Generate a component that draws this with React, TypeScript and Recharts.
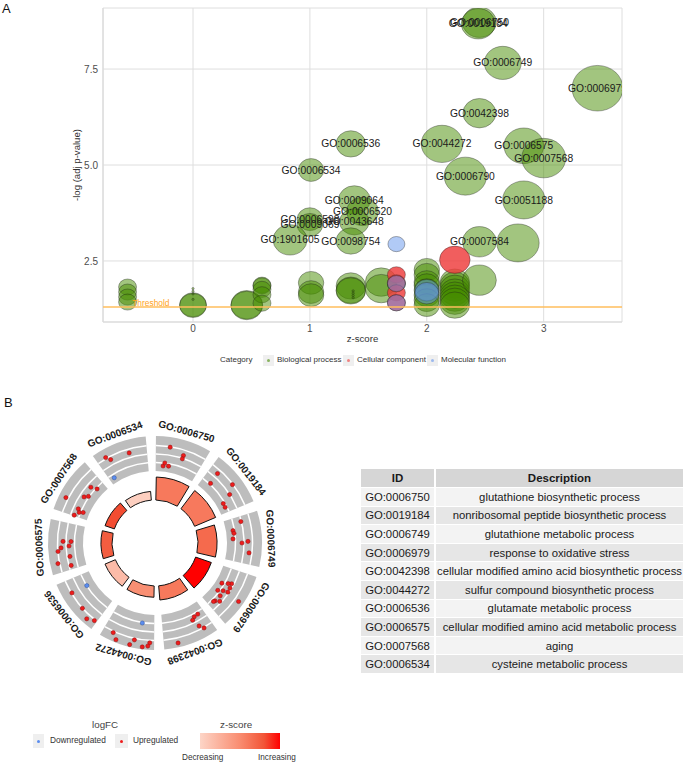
import React from 'react';
import {
  ScatterChart, Scatter, XAxis, YAxis, ZAxis, CartesianGrid,
  PieChart, Pie, Cell, RadialBarChart, RadialBar, PolarAngleAxis, PolarRadiusAxis,
  RadarChart, Radar,
} from 'recharts';

const FONT = '"Liberation Sans", Arial, Helvetica, sans-serif';

// ---------------- Panel A: GO bubble plot ----------------
const bpIds = [
  'GO:0006750', 'GO:0019184', 'GO:0006749', 'GO:0006979', 'GO:0042398', 'GO:0044272', 'GO:0006536',
  'GO:0006575', 'GO:0007568', 'GO:0006534', 'GO:0006790', 'GO:0009064', 'GO:0051188', 'GO:0006520',
  'GO:0006598', 'GO:0043648', 'GO:0009069', 'GO:1901605', 'GO:0098754', 'GO:0007584',
  '', '', '', '', '', '', '', '', '', '', '', '', '', '', '', '', '', '', '', '', '', '', '', '', '', '',
  '', '', '', '', '', '', '', '', '', '', '', '', '', '', '', '', '', '', '', '', '', '', '',
];
const bpZ = [
  2.45, 2.44, 2.65, 3.46, 2.45, 2.13, 1.35, 2.83, 3.0, 1.01, 2.33, 1.38, 2.83, 1.45,
  1.0, 1.38, 1.0, 0.83, 1.35, 2.45,
  2.78, -0.56, -0.56, -0.56, -0.56, 0.0, 0.0, 0.0, 0.0, 0.0, 0.0, 0.46, 0.46, 0.59, 0.59, 0.59, 0.59, 0.59,
  1.01, 1.01, 1.01, 1.35, 1.35, 1.35, 1.37, 1.37, 1.37, 1.37, 1.61, 1.61, 1.74,
  2.0, 2.0, 2.0, 2.0, 2.0, 2.0, 2.0, 2.0, 2.24, 2.24, 2.24, 2.24, 2.24, 2.24, 2.24, 2.24, 2.45,
];
const bpLogP = [
  8.72, 8.68, 7.66, 7.0, 6.35, 5.55, 5.55, 5.5, 5.18, 4.87, 4.71, 4.09, 4.09, 3.79,
  3.59, 3.52, 3.44, 3.05, 3.02, 3.0,
  2.97, 1.82, 1.69, 1.56, 1.43, 1.36, 1.34, 1.78, 1.71, 1.64, 1.5, 1.36, 1.34, 1.87, 1.85, 1.76, 1.62, 1.4,
  1.93, 1.69, 1.61, 1.85, 1.74, 1.72, 1.72, 1.66, 1.6, 1.54, 1.95, 1.78, 1.9,
  2.27, 2.14, 1.95, 1.87, 1.74, 1.61, 1.48, 1.35, 1.95, 1.87, 1.79, 1.69, 1.61, 1.53, 1.45, 1.35, 2.0,
];
const bpCount = [
  16, 16, 19, 36, 15, 24, 12, 22, 27, 9, 25, 14, 25, 14,
  9, 12, 9, 16, 12, 16,
  25, 4.5, 4.5, 4.5, 4.5, 10, 10, 0.08, 0.08, 0.08, 0.08, 14, 14, 4.5, 4.5, 4.5, 4.5, 4.5,
  9, 9, 9, 12, 12, 12, 0.08, 0.08, 0.08, 0.08, 14, 14, 4.5,
  9, 9, 9, 9, 9, 9, 9, 9, 12, 12, 12, 12, 12, 12, 12, 12, 16,
];
const ccZ = [2.24, 1.74, 1.74, 1.74, 1.74];
const ccLogP = [2.53, 2.14, 1.93, 1.67, 1.41];
const ccCount = [13, 4.5, 4.5, 4.5, 4.5];
const mfZ = [1.74, 1.74, 1.74, 2.0, 2.0];
const mfLogP = [2.94, 1.91, 1.41, 1.74, 1.66];
const mfCount = [4, 4.5, 4.5, 8, 8];

const xDomain = [-0.77, 3.67];
const yDomain = [0.91, 9.09];
const xTicks = [0, 1, 2, 3];
const yTicks = [2.5, 5.0, 7.5];
const thresholdLogP = 1.301;
const thresholdLabelZ = -0.52;
const categoryNames = ['Biological process', 'Cellular component', 'Molecular function'];
const categoryColors = ['#458B00', '#EE3B3B', '#6495ED'];
const categoryOpacity = [0.5, 0.82, 0.5];

// ---------------- Panel B: GO circle ----------------
const termIds = ['GO:0006750', 'GO:0019184', 'GO:0006749', 'GO:0006979', 'GO:0042398',
  'GO:0044272', 'GO:0006536', 'GO:0006575', 'GO:0007568', 'GO:0006534'];
const termDesc = [
  'glutathione biosynthetic process',
  'nonribosomal peptide biosynthetic process',
  'glutathione metabolic process',
  'response to oxidative stress',
  'cellular modified amino acid biosynthetic process',
  'sulfur compound biosynthetic process',
  'glutamate metabolic process',
  'cellular modified amino acid metabolic process',
  'aging',
  'cysteine metabolic process',
];
const termLogP = [8.72, 8.68, 7.66, 7.0, 6.35, 5.55, 5.55, 5.5, 5.18, 4.87];
const termZ = [2.45, 2.44, 2.65, 3.46, 2.45, 2.13, 1.35, 2.83, 3.0, 1.01];

// gene dots: angular offset (deg) inside each term sector, |logFC|, and which are downregulated
const dotAngle = [
  [8.9, 17.6, 18.4, 7.1, 9.6, 5.9],
  [6.4, 6.5, 16.5, 21.4, 23.5, 26.8],
  [4.3, 8.5, 10.8, 15, 18, 17.4, 24],
  [12.8, 11.3, 9.5, 18.7, 17.2, 15.9, 13, 21.2, 26.5, 26, 23.7, 16.6],
  [4.8, 8.2, 9.7, 8.1, 6, 23],
  [9.2, 24.5, 21.9, 11.6, 13.6, 6.5, 4.4, 2.9],
  [21.7, 22.9, 11.5, 5.8, 1.6],
  [19.4, 18.6, 16, 15, 13.3, 8.6, 5.8, 3.3],
  [9.3, 5.8, 1.0, 3.5, 4.6, 15, 16.5, 23.2, 25],
  [5.5, 7.5, 19.9, 3.8],
];
const dotFC = [
  [2.94, 2.35, 1.94, 1.01, 0.71, 0.64],
  [2.52, 1.11, 2.94, 2.0, 0.81, 0.79],
  [1.94, 0.82, 0.89, 0.72, 1.76, 2.47, 2.65],
  [0.71, 1.38, 1.74, 0.78, 1.32, 1.87, 1.82, 1.4, 1.26, 1.34, 1.78, 3.53],
  [1.29, 1.36, 1.64, 2.58, 3.07, 3.6],
  [1.06, 3.16, 3.8, 3.18, 3.85, 3.85, 3.68, 3.29],
  [0.99, 2.93, 3.02, 3.53, 3.11],
  [1.41, 2.35, 1.65, 2.6, 2.98, 1.66, 3.2, 1.74],
  [3.29, 1.41, 1.58, 1.14, 0.71, 1.48, 1.09, 1.53, 0.85],
  [3.13, 2.64, 2.55, 0.58],
];
const dotDown = [[], [], [], [], [], [0], [0], [], [], [3]];
const ringLines = [80.5, 89, 97.5];

// ---------- layout constants ----------
const A_W = 690;
const A_H = 350;
const A_MARGIN = { top: 8, right: 68, bottom: 0, left: 0 };
const Y_AXIS_W = 103;
const X_AXIS_H = 28;
const CLIP_ID = 'plotClipA';

// ---------- derived tables for the library ----------
const bpData = bpZ.map((z, i) => ({ id: bpIds[i], z, logp: bpLogP[i], count: bpCount[i] }));
const ccData = ccZ.map((z, i) => ({ z, logp: ccLogP[i], count: ccCount[i] }));
const mfData = mfZ.map((z, i) => ({ z, logp: mfLogP[i], count: mfCount[i] }));
const labelData = bpData.filter((d) => d.id);
const thresholdLine = [{ z: xDomain[0], logp: thresholdLogP }, { z: xDomain[1], logp: thresholdLogP }];
const thresholdText = [{ z: thresholdLabelZ, logp: thresholdLogP, text: 'Threshold' }];

const pieData = termIds.map((id) => ({ id, share: 1 }));
const barData = termIds.map((id, i) => ({ id, logp: termLogP[i], z: termZ[i] }));

const slotRows: any[] = Array.from({ length: 360 }, (_, i) => ({ slot: i }));
const seriesKeys: string[] = [];
dotAngle.forEach((angles, k) => {
  angles.forEach((a, j) => {
    const slot = Math.round(36 * k + a) % 360;
    const dir = dotDown[k].includes(j) ? 'dn' : 'up';
    let s = 0;
    while (slotRows[slot][`${dir}${s}`] != null) s += 1;
    const key = `${dir}${s}`;
    slotRows[slot][key] = dotFC[k][j];
    if (!seriesKeys.includes(key)) seriesKeys.push(key);
  });
});
slotRows.forEach((row) => seriesKeys.forEach((k) => { if (row[k] === undefined) row[k] = null; }));

const zStops: [number, number[]][] = [
  [0, [253, 213, 199]], [0.5, [249, 140, 112]], [0.8, [242, 85, 55]], [1, [255, 0, 0]],
];
function zColor(z: number) {
  const t = Math.max(0, Math.min(1, (z - 0.9) / 2.56));
  for (let i = 1; i < zStops.length; i += 1) {
    const [t1, c1] = zStops[i];
    const [t0, c0] = zStops[i - 1];
    if (t <= t1) {
      const f = (t - t0) / (t1 - t0);
      const c = c0.map((v, j) => Math.round(v + (c1[j] - v) * f));
      return `rgb(${c[0]},${c[1]},${c[2]})`;
    }
  }
  return 'rgb(255,0,0)';
}

const makeBubble = (color: string, opacity: number) => (p: any) => {
  if (!Number.isFinite(p.cx) || !Number.isFinite(p.cy)) return <g />;
  const size = typeof p.size === 'number' ? p.size : Math.PI * (p.width / 2) ** 2;
  const r = Math.sqrt(Math.max(size, 0) / Math.PI);
  return (
    <g clipPath={`url(#${CLIP_ID})`}>
      <ellipse cx={p.cx} cy={p.cy} rx={r * 1.06} ry={r * 0.95} fill={color} fillOpacity={opacity}
        stroke="#1a1a1a" strokeOpacity={0.5} strokeWidth={0.7} />
    </g>
  );
};

const LabelShape = (p: any) => {
  if (!Number.isFinite(p.cx) || !Number.isFinite(p.cy)) return <g />;
  const id = p.payload?.id ?? p.id;
  return (
    <g clipPath={`url(#${CLIP_ID})`}>
      <text x={p.cx} y={p.cy} dy="0.35em" textAnchor="middle" fontSize={10.3} fontFamily={FONT} fill="#1a1a1a">
        {id}
      </text>
    </g>
  );
};

// the threshold label point also carries the plot-area clip definition
const ThresholdTextShape = (p: any) => {
  if (!Number.isFinite(p.cx) || !Number.isFinite(p.cy)) return <g />;
  return (
    <g>
      <defs>
        <clipPath id={CLIP_ID}>
          <rect x={A_MARGIN.left + Y_AXIS_W} y={A_MARGIN.top}
            width={A_W - A_MARGIN.left - A_MARGIN.right - Y_AXIS_W}
            height={A_H - A_MARGIN.top - A_MARGIN.bottom - X_AXIS_H} />
        </clipPath>
      </defs>
      <text x={p.cx} y={p.cy - 1} fontSize={8.4} fill="#FFA31A" fontFamily={FONT}>{p.payload?.text ?? p.text}</text>
    </g>
  );
};
const NoPoint = () => <g />;

const RAD = Math.PI / 180;
const renderTermLabel = (p: any) => {
  const r = 116;
  const x = p.cx + r * Math.cos(-p.midAngle * RAD);
  const y = p.cy + r * Math.sin(-p.midAngle * RAD);
  const rot = 90 - p.midAngle;
  return (
    <text key={`lab-${p.index}`} x={x} y={y} transform={`rotate(${rot} ${x} ${y})`} textAnchor="middle"
      dominantBaseline="central" fontSize={10} fontWeight="bold" fill="#1a1a1a" fontFamily={FONT}>
      {p.name ?? p.payload?.id}
    </text>
  );
};

const makeDot = (fill: string, stroke: string) => (p: any) => {
  const v = p.payload && 'value' in p.payload ? p.payload.value : p.value;
  if (v == null || !Number.isFinite(p.cx) || !Number.isFinite(p.cy)) return <g key={`d-${p.index}`} />;
  return <circle key={`d-${p.index}`} cx={p.cx} cy={p.cy} r={2.1} fill={fill} stroke={stroke} strokeWidth={0.5} />;
};

const zeroMargin = { top: 0, right: 0, bottom: 0, left: 0 };
const CX = 155;
const CY = 138;

const txt = (extra: any) => ({ position: 'absolute' as const, fontFamily: FONT, whiteSpace: 'nowrap' as const, lineHeight: 1, ...extra });

export default function App() {
  const legendKeyLefts = [263, 343, 427];
  return (
    <div style={{ position: 'absolute', left: 0, top: 0, width: 690, height: 765, background: '#fff', fontFamily: FONT, overflow: 'hidden' }}>
      <div style={txt({ left: 2, top: 2, fontSize: 13, color: '#111' })}>A</div>
      <div style={{ position: 'absolute', left: 0, top: 0 }}>
        <ScatterChart width={A_W} height={A_H} margin={A_MARGIN} accessibilityLayer={false}>
          <CartesianGrid stroke="#DEDEDE" strokeWidth={1} />
          <XAxis type="number" dataKey="z" domain={xDomain} ticks={xTicks} allowDataOverflow height={X_AXIS_H}
            tickLine={false} tickSize={3} tickMargin={0} axisLine={{ stroke: '#DADADA', strokeWidth: 1.2 }}
            tick={{ fontSize: 10, fill: '#4d4d4d', fontFamily: FONT }}
            label={{ value: 'z-score', position: 'insideBottom', offset: 8, style: { fontSize: 9.6, fill: '#333', fontFamily: FONT } }} />
          <YAxis type="number" dataKey="logp" domain={yDomain} ticks={yTicks} allowDataOverflow width={Y_AXIS_W}
            tickLine={false} tickSize={3} tickMargin={2} axisLine={{ stroke: '#DADADA', strokeWidth: 1.2 }}
            tickFormatter={(v: number) => v.toFixed(1)}
            tick={{ fontSize: 10, fill: '#4d4d4d', fontFamily: FONT }}
            label={{ value: '-log (adj p-value)', angle: -90, position: 'insideLeft', offset: 77, style: { textAnchor: 'middle', fontSize: 9.6, fill: '#333', fontFamily: FONT } }} />
          <ZAxis type="number" dataKey="count" domain={[0, 36]} range={[0, 1810]} />
          <Scatter data={bpData} shape={makeBubble(categoryColors[0], categoryOpacity[0])} isAnimationActive={false} />
          <Scatter data={ccData} shape={makeBubble(categoryColors[1], categoryOpacity[1])} isAnimationActive={false} />
          <Scatter data={mfData} shape={makeBubble(categoryColors[2], categoryOpacity[2])} isAnimationActive={false} />
          <Scatter data={thresholdLine} line={{ stroke: '#FFBE5C', strokeWidth: 1.3 }} shape={NoPoint} isAnimationActive={false} />
          <Scatter data={thresholdText} shape={ThresholdTextShape} isAnimationActive={false} />
          <Scatter data={labelData} shape={LabelShape} isAnimationActive={false} />
        </ScatterChart>
      </div>

      {/* Category legend */}
      <div style={txt({ left: 220, top: 356, fontSize: 8, color: '#333' })}>Category</div>
      {categoryNames.map((name, i) => (
        <React.Fragment key={name}>
          <div style={{ position: 'absolute', left: legendKeyLefts[i], top: 354.5, width: 11, height: 11, background: '#EFEFEF', display: 'flex', alignItems: 'center', justifyContent: 'center' }}>
            <div style={{ width: 3, height: 3, borderRadius: 2, background: categoryColors[i], opacity: 0.6 }} />
          </div>
          <div style={txt({ left: legendKeyLefts[i] + 14, top: 356, fontSize: 8, color: '#333' })}>{name}</div>
        </React.Fragment>
      ))}

      <div style={txt({ left: 4, top: 396, fontSize: 13, color: '#111' })}>B</div>

      {/* GO circle: gray outer band with labels */}
      <div style={{ position: 'absolute', left: 0, top: 405 }}>
        <PieChart width={320} height={280} margin={zeroMargin}>
          <Pie data={pieData} dataKey="share" nameKey="id" cx={CX} cy={CY} innerRadius={72} outerRadius={107}
            startAngle={89.5} endAngle={-270.5} paddingAngle={5.5} stroke="none" isAnimationActive={false}
            label={renderTermLabel} labelLine={false}>
            {pieData.map((d) => <Cell key={d.id} fill="#BDBDBD" stroke="none" />)}
          </Pie>
          {ringLines.map((r) => (
            <Pie key={r} data={pieData} dataKey="share" nameKey="id" cx={CX} cy={CY} innerRadius={r - 0.75} outerRadius={r + 0.75}
              startAngle={89.5} endAngle={-270.5} paddingAngle={5.5} stroke="none" isAnimationActive={false}>
              {pieData.map((d) => <Cell key={d.id} fill="#FFFFFF" stroke="none" />)}
            </Pie>
          ))}
        </PieChart>
      </div>

      {/* GO circle: inner bars */}
      <div style={{ position: 'absolute', left: 0, top: 405 }}>
        <RadialBarChart width={320} height={280} data={barData} layout="centric" cx={CX} cy={CY}
          innerRadius={43} outerRadius={67} startAngle={56} endAngle={-304} barCategoryGap="8%" margin={zeroMargin}>
          <PolarAngleAxis type="category" dataKey="id" tick={false} axisLine={false} tickLine={false} />
          <PolarRadiusAxis type="number" domain={[2.5, 9]} tick={false} axisLine={false} tickLine={false} />
          <RadialBar dataKey="logp" isAnimationActive={false} stroke="#111" strokeWidth={1}>
            {barData.map((d) => <Cell key={d.id} fill={zColor(d.z)} />)}
          </RadialBar>
        </RadialBarChart>
      </div>

      {/* GO circle: gene dots */}
      <div style={{ position: 'absolute', left: 0, top: 405 }}>
        <RadarChart width={320} height={280} data={slotRows} cx={CX} cy={CY} innerRadius={72} outerRadius={106}
          startAngle={90} endAngle={-270} margin={zeroMargin}>
          <PolarAngleAxis dataKey="slot" type="category" tick={false} axisLine={false} tickLine={false} />
          <PolarRadiusAxis type="number" domain={[0, 4]} tick={false} axisLine={false} tickLine={false} />
          {seriesKeys.map((k) => (
            <Radar key={k} dataKey={k} fill="none" fillOpacity={0} stroke="none" isAnimationActive={false}
              dot={k.startsWith('dn') ? makeDot('#5B8DEF', '#2a4f9a') : makeDot('#EE1C1C', '#8a0f0f')} />
          ))}
        </RadarChart>
      </div>

      {/* Table */}
      <div style={{ position: 'absolute', left: 361, top: 469, display: 'grid', gridTemplateColumns: '73px 247px', columnGap: 2, rowGap: 1, fontFamily: FONT, color: '#1a1a1a' }}>
        <div style={{ height: 18, background: '#D6D6D6', fontWeight: 'bold', fontSize: 11.5, display: 'flex', alignItems: 'center', justifyContent: 'center' }}>ID</div>
        <div style={{ height: 18, background: '#D6D6D6', fontWeight: 'bold', fontSize: 11.5, display: 'flex', alignItems: 'center', justifyContent: 'center' }}>Description</div>
        {termIds.map((id, i) => (
          <React.Fragment key={id}>
            <div style={{ height: 17.6, background: i % 2 === 0 ? '#F3F3F3' : '#E6E6E6', fontSize: 11.3, display: 'flex', alignItems: 'center', justifyContent: 'center' }}>{id}</div>
            <div style={{ height: 17.6, background: i % 2 === 0 ? '#F3F3F3' : '#E6E6E6', fontSize: 11.3, display: 'flex', alignItems: 'center', justifyContent: 'center' }}>{termDesc[i]}</div>
          </React.Fragment>
        ))}
      </div>

      {/* logFC legend */}
      <div style={txt({ left: 92, top: 720, fontSize: 9.8, color: '#444' })}>logFC</div>
      <div style={{ position: 'absolute', left: 33, top: 734, width: 11, height: 14, background: '#EFEFEF', display: 'flex', alignItems: 'center', justifyContent: 'center' }}>
        <div style={{ width: 3, height: 3, borderRadius: 2, background: '#5B8DEF' }} />
      </div>
      <div style={txt({ left: 50, top: 736, fontSize: 8.3, color: '#333' })}>Downregulated</div>
      <div style={{ position: 'absolute', left: 115, top: 734, width: 13, height: 14, background: '#EFEFEF', display: 'flex', alignItems: 'center', justifyContent: 'center' }}>
        <div style={{ width: 3, height: 3, borderRadius: 2, background: '#EE1C1C' }} />
      </div>
      <div style={txt({ left: 133, top: 736, fontSize: 8.3, color: '#333' })}>Upregulated</div>

      {/* z-score legend */}
      <div style={txt({ left: 220, top: 720, fontSize: 9.8, color: '#444' })}>z-score</div>
      <div style={{ position: 'absolute', left: 200, top: 733, width: 80, height: 16, background: 'linear-gradient(to right, rgb(253,213,199), rgb(249,140,112) 50%, rgb(242,85,55) 80%, rgb(255,0,0))' }} />
      <div style={txt({ left: 182, top: 754, fontSize: 8.2, color: '#333' })}>Decreasing</div>
      <div style={txt({ left: 258, top: 754, fontSize: 8.2, color: '#333' })}>Increasing</div>
    </div>
  );
}
